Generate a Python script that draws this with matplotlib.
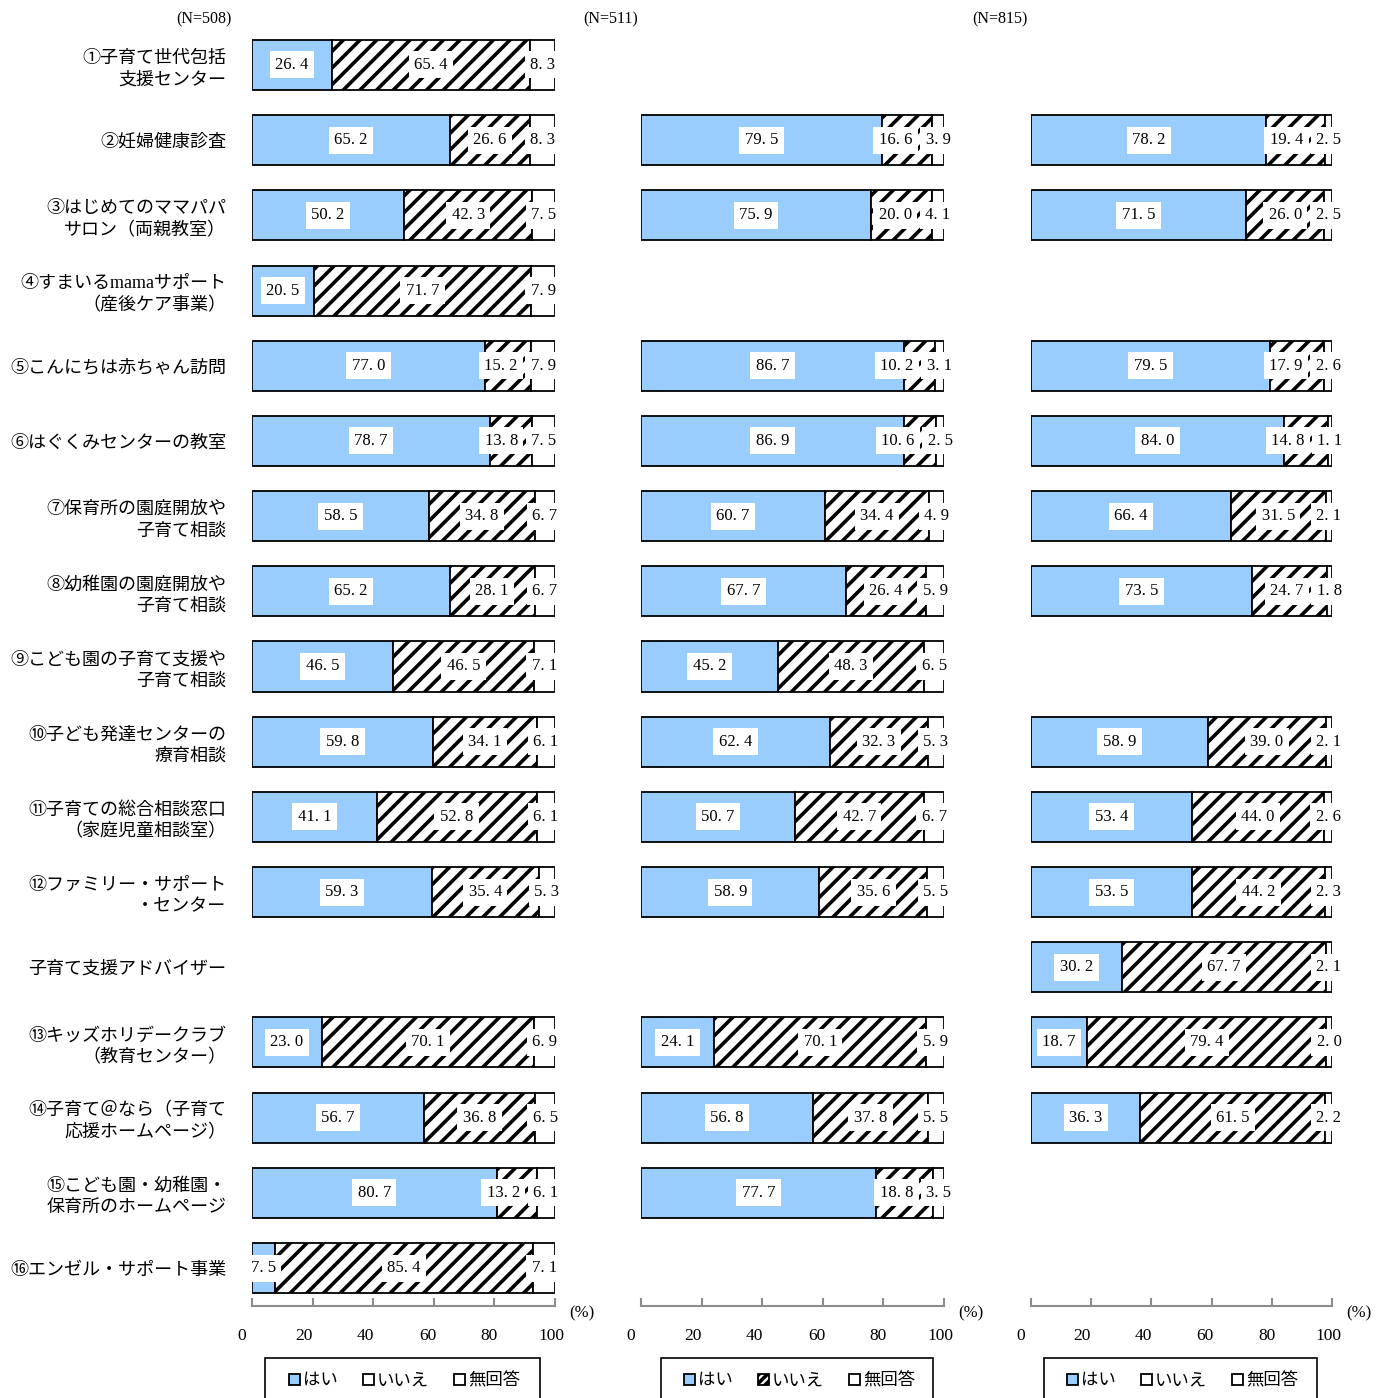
import matplotlib
matplotlib.use("Agg")
import matplotlib.pyplot as plt
import matplotlib.transforms as mtransforms
import numpy as np
from matplotlib.patches import Patch, Rectangle

plt.rcParams['font.family'] = ['Liberation Serif', 'Noto Sans CJK JP']
plt.rcParams['hatch.linewidth'] = 2.6

# row labels (top to bottom)
labels = [
    "①子育て世代包括\n支援センター",
    "②妊婦健康診査",
    "③はじめてのママパパ\nサロン（両親教室）",
    "④すまいるmamaサポート\n（産後ケア事業）",
    "⑤こんにちは赤ちゃん訪問",
    "⑥はぐくみセンターの教室",
    "⑦保育所の園庭開放や\n子育て相談",
    "⑧幼稚園の園庭開放や\n子育て相談",
    "⑨こども園の子育て支援や\n子育て相談",
    "⑩子ども発達センターの\n療育相談",
    "⑪子育ての総合相談窓口\n（家庭児童相談室）",
    "⑫ファミリー・サポート\n・センター",
    "子育て支援アドバイザー",
    "⑬キッズホリデークラブ\n（教育センター）",
    "⑭子育て＠なら（子育て\n応援ホームページ）",
    "⑮こども園・幼稚園・\n保育所のホームページ",
    "⑯エンゼル・サポート事業",
]

nan = np.nan
# panel 1 (N=508)
yes1 = [26.4, 65.2, 50.2, 20.5, 77.0, 78.7, 58.5, 65.2, 46.5, 59.8, 41.1, 59.3, nan, 23.0, 56.7, 80.7, 7.5]
no1 = [65.4, 26.6, 42.3, 71.7, 15.2, 13.8, 34.8, 28.1, 46.5, 34.1, 52.8, 35.4, nan, 70.1, 36.8, 13.2, 85.4]
na1 = [8.3, 8.3, 7.5, 7.9, 7.9, 7.5, 6.7, 6.7, 7.1, 6.1, 6.1, 5.3, nan, 6.9, 6.5, 6.1, 7.1]
# panel 2 (N=511)
yes2 = [nan, 79.5, 75.9, nan, 86.7, 86.9, 60.7, 67.7, 45.2, 62.4, 50.7, 58.9, nan, 24.1, 56.8, 77.7, nan]
no2 = [nan, 16.6, 20.0, nan, 10.2, 10.6, 34.4, 26.4, 48.3, 32.3, 42.7, 35.6, nan, 70.1, 37.8, 18.8, nan]
na2 = [nan, 3.9, 4.1, nan, 3.1, 2.5, 4.9, 5.9, 6.5, 5.3, 6.7, 5.5, nan, 5.9, 5.5, 3.5, nan]
# panel 3 (N=815)
yes3 = [nan, 78.2, 71.5, nan, 79.5, 84.0, 66.4, 73.5, nan, 58.9, 53.4, 53.5, 30.2, 18.7, 36.3, nan, nan]
no3 = [nan, 19.4, 26.0, nan, 17.9, 14.8, 31.5, 24.7, nan, 39.0, 44.0, 44.2, 67.7, 79.4, 61.5, nan, nan]
na3 = [nan, 2.5, 2.5, nan, 2.6, 1.1, 2.1, 1.8, nan, 2.1, 2.6, 2.3, 2.1, 2.0, 2.2, nan, nan]

ns = ["(N=508)", "(N=511)", "(N=815)"]
legend_labels = ["はい", "いいえ", "無回答"]
xticks = [0, 20, 40, 60, 80, 100]

blue = '#99CCFF'
W, H = 1383, 1398
fig = plt.figure(figsize=(W / 100, H / 100), dpi=100)

# axes left px, width px, data, N-label offset, legend box (left, width), legend centre, hatched handle
panels = [
    (252, 303, yes1, no1, na1, -20, (265, 275), 405, False),
    (641, 303, yes2, no2, na2, -3, (661, 272), 800, True),
    (1031, 301, yes3, no3, na3, -3, (1044, 273), 1183, False),
]
top_px, bot_px = 27.4, 1305.6

def fmt(v):
    return f"{v:.1f}".replace('.', '. ')

box = dict(facecolor='white', edgecolor='none', pad=4)

for i, (x0, w, yes, no, na, noff, lbox, lcx, hatched_handle) in enumerate(panels):
    ax = fig.add_axes([x0 / W, 1 - bot_px / H, w / W, (bot_px - top_px) / H])
    yes = np.array(yes); no = np.array(no); na = np.array(na)
    y = np.arange(len(labels))
    m = ~np.isnan(yes)
    ax.barh(y[m], yes[m], height=0.665, color=blue, edgecolor='black', linewidth=1.3)
    ax.barh(y[m], no[m], left=yes[m], height=0.665, color='white', edgecolor='black',
            hatch='//', linewidth=1.3)
    ax.barh(y[m], na[m], left=yes[m] + no[m], height=0.665, color='white',
            edgecolor='black', linewidth=1.3)
    for k in y[m]:
        ax.text(yes[k] / 2, k, fmt(yes[k]), ha='center', va='center', fontsize=12, bbox=box)
        na_c = yes[k] + no[k] + na[k] / 2
        no_c = min(yes[k] + no[k] / 2, na_c - 14)
        ax.text(no_c, k, fmt(no[k]), ha='center', va='center', fontsize=12, bbox=box)
        ax.text(na_c, k, fmt(na[k]), ha='center', va='center', fontsize=12, bbox=box)

    ax.set_xlim(0, 100)
    ax.set_ylim(16.5, -0.5)
    for s in ['top', 'right', 'left']:
        ax.spines[s].set_visible(False)
    ax.spines['bottom'].set_color('#8c8c8c')
    ax.spines['bottom'].set_linewidth(1.5)
    ax.set_xticks(xticks)
    ax.tick_params(axis='x', direction='in', length=6, width=1.5, color='#8c8c8c',
                   labelsize=12.5, pad=16)
    # tick labels sit slightly left of their ticks in the original
    for v, lab in zip(xticks, ax.get_xticklabels()):
        dx = (-10 + 0.06 * v) / 100
        lab.set_transform(lab.get_transform() +
                          mtransforms.ScaledTranslation(dx, 0, fig.dpi_scale_trans))
    if i == 0:
        ax.set_yticks(y)
        ax.set_yticklabels(labels, fontsize=13, ha='right', multialignment='right',
                           linespacing=1.35)
        ax.tick_params(axis='y', left=False, pad=15)
    else:
        ax.set_yticks([])

    ax.annotate("(%)", xy=(1, 0), xycoords='axes fraction', xytext=(27, -8),
                textcoords='offset pixels', ha='center', va='center', fontsize=12)
    ax.annotate(ns[i], xy=(0, 1), xycoords='axes fraction', xytext=(noff, 8),
                textcoords='offset pixels', ha='right', va='center', fontsize=11.5)

    handles = [
        Patch(facecolor=blue, edgecolor='black', linewidth=1.3),
        Patch(facecolor='white', edgecolor='black', linewidth=1.3,
              hatch='////' if hatched_handle else None),
        Patch(facecolor='white', edgecolor='black', linewidth=1.3),
    ]
    fig.legend(handles, legend_labels, loc='center', ncol=3,
               bbox_to_anchor=(lcx / W, 1 - 1381 / H), fontsize=12.5,
               handlelength=0.6, handleheight=0.6, handletextpad=0.2,
               columnspacing=1.45, borderpad=0, frameon=False)
    # legend frame runs past the bottom edge of the picture
    fig.patches.append(Rectangle((lbox[0] / W, 1 - 1412 / H), lbox[1] / W, 54 / H,
                                 transform=fig.transFigure, fill=False,
                                 edgecolor='black', linewidth=1.2))

fig.savefig("out.png", dpi=100)
